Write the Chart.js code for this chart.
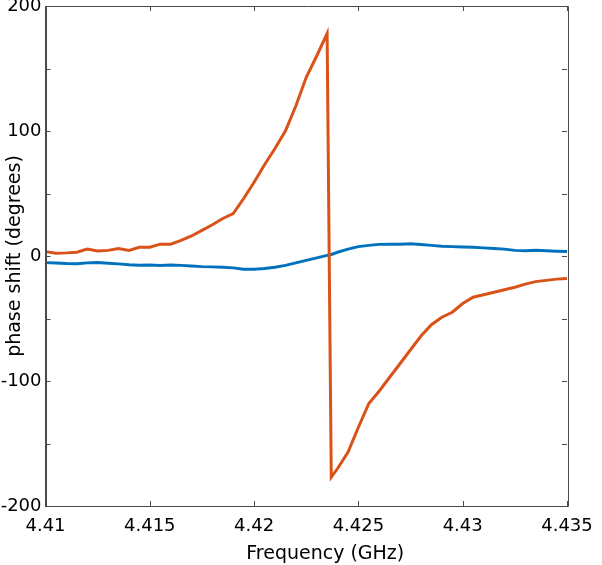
<!DOCTYPE html>
<html>
<head>
<meta charset="utf-8">
<script src="https://cdn.jsdelivr.net/npm/chart.js@4/dist/chart.umd.min.js"></script>
<style>
  html, body { margin: 0; padding: 0; background: #ffffff; }
  #wrap { width: 602px; height: 565px; position: relative; }
</style>
</head>
<body>
<div id="wrap"><canvas id="c" width="602" height="565"></canvas></div>
<script>
// Frequency samples (GHz)
const freq = [
  4.4100, 4.4105, 4.4110, 4.4115, 4.4120, 4.4125, 4.4130, 4.4135, 4.4140, 4.4145,
  4.4150, 4.4155, 4.4160, 4.4165, 4.4170, 4.4175, 4.4180, 4.4185, 4.4190, 4.4195,
  4.4200, 4.4205, 4.4210, 4.4215, 4.4220, 4.4225, 4.4230, 4.4235, 4.4237, 4.4240,
  4.4245, 4.4250, 4.4255, 4.4260, 4.4265, 4.4270, 4.4275, 4.4280, 4.4285, 4.4290,
  4.4295, 4.4300, 4.4305, 4.4310, 4.4315, 4.4320, 4.4325, 4.4330, 4.4335, 4.4340,
  4.4345, 4.4350
];
// Phase shift (degrees), orange series
const phaseOrange = [
  3.5, 2.3, 2.5, 3.0, 5.5, 4.0, 4.5, 6.0, 4.5, 7.0,
  7.0, 9.5, 9.5, 12.5, 16, 20.5, 25, 30, 34, 46,
  59, 73, 86, 100, 120, 143, 160, 178, -177, -170,
  -157, -137, -118, -108, -97, -86, -75, -64, -55, -49,
  -45, -38, -33, -31, -29, -27, -25, -22.5, -20.5, -19.5,
  -18.5, -18
];
// Phase shift (degrees), blue series
const phaseBlue = [
  -5.3, -5.6, -6, -6.2, -5.5, -5.3, -5.8, -6.3, -7, -7.3,
  -7.2, -7.5, -7.3, -7.5, -8, -8.5, -8.7, -9, -9.5, -10.5,
  -10.5, -10, -9, -7.5, -5.5, -3.5, -1.5, 0.5, 1.2, 3,
  5.5, 7.5, 8.5, 9.3, 9.5, 9.5, 9.7, 9.2, 8.5, 7.8,
  7.5, 7.2, 7, 6.5, 6, 5.5, 4.5, 4.3, 4.5, 4.2,
  3.8, 3.5
];
const xTicks = [4.41, 4.415, 4.42, 4.425, 4.43, 4.435];
const yTicks = [-200, -150, -100, -50, 0, 50, 100, 150, 200];
const yLabelled = [-200, -100, 0, 100, 200];

const axisColor = '#4a4a4a';
const fontFamily = '"DejaVu Sans", Verdana, sans-serif';

const boxAndTicks = {
  id: 'boxAndTicks',
  afterDatasetsDraw(chart) {
    const { ctx, chartArea: a, scales } = chart;
    const tl = 5;
    ctx.save();
    ctx.strokeStyle = axisColor;
    ctx.lineWidth = 1;
    ctx.beginPath();
    ctx.rect(Math.round(a.left) + 0.5, Math.round(a.top) + 0.5,
             Math.round(a.right - a.left), Math.round(a.bottom - a.top));
    ctx.stroke();
    ctx.beginPath();
    xTicks.forEach(v => {
      const px = Math.round(scales.x.getPixelForValue(v)) + 0.5;
      ctx.moveTo(px, a.bottom); ctx.lineTo(px, a.bottom - tl);
      ctx.moveTo(px, a.top); ctx.lineTo(px, a.top + tl);
    });
    yTicks.forEach(v => {
      const py = Math.round(scales.y.getPixelForValue(v)) + 0.5;
      ctx.moveTo(a.left, py); ctx.lineTo(a.left + tl, py);
      ctx.moveTo(a.right, py); ctx.lineTo(a.right - tl, py);
    });
    ctx.stroke();
    ctx.restore();
  }
};

const chart = new Chart(document.getElementById('c'), {
  type: 'line',
  data: {
    datasets: [
      {
        label: 'orange',
        data: freq.map((f, i) => ({ x: f, y: phaseOrange[i] })),
        borderColor: '#D95319',
        borderWidth: 3,
        pointRadius: 0,
        tension: 0,
        fill: false
      },
      {
        label: 'blue',
        data: freq.map((f, i) => ({ x: f, y: phaseBlue[i] })),
        borderColor: '#0072BD',
        borderWidth: 3,
        pointRadius: 0,
        tension: 0,
        fill: false
      }
    ]
  },
  options: {
    responsive: false,
    animation: false,
    devicePixelRatio: 1,
    layout: { padding: { top: 6, right: 35, left: 0, bottom: 0 } },
    plugins: { legend: { display: false }, tooltip: { enabled: false } },
    scales: {
      x: {
        type: 'linear',
        min: 4.41, max: 4.435,
        afterBuildTicks: s => { s.ticks = xTicks.map(v => ({ value: v })); },
        afterFit: s => { s.height = 59; s.paddingLeft = 0; s.paddingRight = 0; },
        grid: { display: false, drawTicks: false, tickLength: 0 },
        border: { display: true, color: axisColor },
        ticks: {
          color: '#000',
          padding: 10,
          maxRotation: 0,
          autoSkip: false,
          font: { family: fontFamily, size: 18 },
          callback: v => String(parseFloat(Number(v).toFixed(3)))
        },
        title: {
          display: true,
          text: 'Frequency (GHz)',
          color: '#000',
          font: { family: fontFamily, size: 19 },
          padding: { top: 0, bottom: 0 }
        }
      },
      y: {
        type: 'linear',
        min: -200, max: 200,
        afterBuildTicks: s => { s.ticks = yLabelled.map(v => ({ value: v })); },
        afterFit: s => { s.width = 45.5; s.paddingTop = 0; s.paddingBottom = 0; },
        grid: { display: false, drawTicks: false, tickLength: 0 },
        border: { display: true, color: axisColor },
        ticks: {
          color: '#000',
          padding: 4,
          autoSkip: false,
          font: { family: fontFamily, size: 18 },
          callback: v => String(v)
        },
        title: {
          display: true,
          text: 'phase shift (degrees)',
          color: '#000',
          font: { family: fontFamily, size: 19 },
          padding: { top: 4, bottom: 0 }
        }
      }
    }
  },
  plugins: [boxAndTicks]
});

// The reference's x-axis title sits slightly right of the plot centre.
const sx = chart.scales.x;
const origDrawTitle = sx.drawTitle.bind(sx);
sx.drawTitle = function () {
  const c = this.ctx;
  c.save();
  c.translate(19, 0);
  origDrawTitle();
  c.restore();
};
chart.draw();
</script>
</body>
</html>
